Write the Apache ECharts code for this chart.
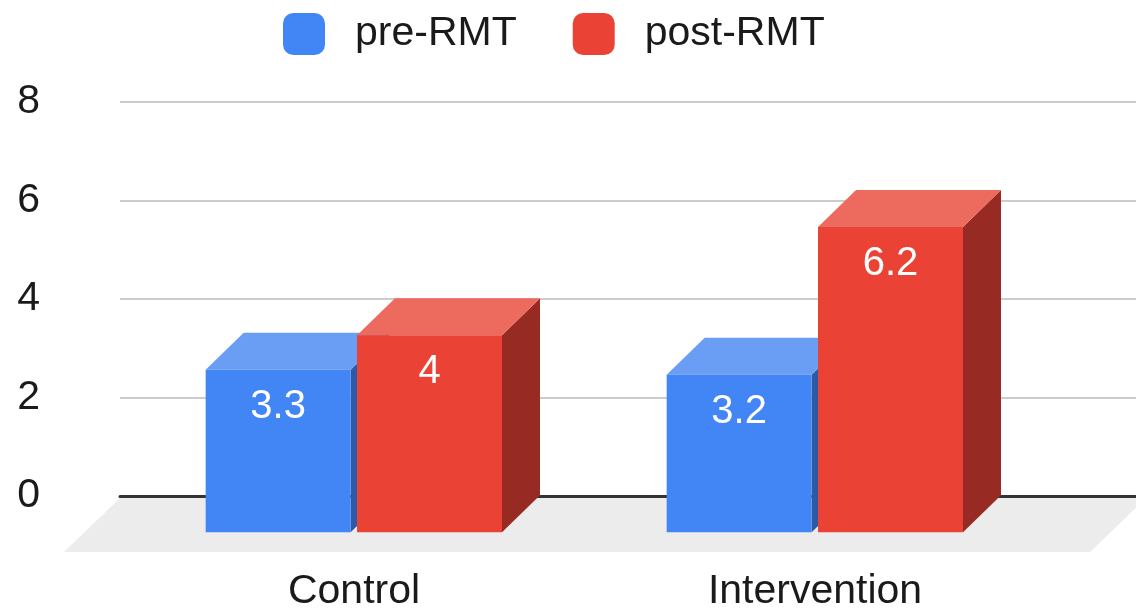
<!DOCTYPE html>
<html>
<head>
<meta charset="utf-8">
<script src="https://cdn.jsdelivr.net/npm/echarts@6/dist/echarts.min.js"></script>
<style>
html,body{margin:0;padding:0;background:#fff;}
#chart{width:1136px;height:609px;}
</style>
</head>
<body>
<div id="chart"></div>
<script>
const categories = ['Control', 'Intervention'];
const preRMT = [3.3, 3.2];
const postRMT = [4, 6.2];
const seriesNames = ['pre-RMT', 'post-RMT'];
const yMin = 0, yMax = 8, yInterval = 2;

const FONT = '"Liberation Sans", Arial, sans-serif';
const TEXT = '#1a1a1a';
const DX = 38, DY = 37;

const palettes = {
  'pre-RMT': { front: '#4285f4', top: '#6a9ef5', side: '#2c5aa6' },
  'post-RMT': { front: '#ea4335', top: '#ed6a5e', side: '#972a23' }
};

function makeBarRender(name, offset) {
  const pal = palettes[name];
  return function (params, api) {
    const cat = api.value(0), v = api.value(1);
    const band = api.size([1, 0])[0];
    const topPt = api.coord([cat, v]);
    const basePt = api.coord([cat, 0]);
    const w = band * 0.3145;
    const cx = topPt[0] + offset * band;
    const x0 = cx - w / 2, x1 = cx + w / 2;
    const yt = topPt[1], yb = basePt[1];
    return {
      type: 'group',
      children: [
        { type: 'polygon', shape: { points: [[x1, yt], [x1 + DX, yt - DY], [x1 + DX, yb - DY], [x1, yb]] }, style: { fill: pal.side } },
        { type: 'polygon', shape: { points: [[x0, yt], [x1, yt], [x1 + DX, yt - DY], [x0 + DX, yt - DY]] }, style: { fill: pal.top } },
        { type: 'rect', shape: { x: x0, y: yt, width: w, height: yb - yt }, style: { fill: pal.front } },
        { type: 'text', style: { text: String(v), x: cx, y: yt + 37, align: 'center', verticalAlign: 'middle', fill: '#ffffff', fontSize: 40, fontFamily: FONT } }
      ]
    };
  };
}

const chart = echarts.init(document.getElementById('chart'), null, { renderer: 'canvas' });
chart.setOption({
  animation: false,
  backgroundColor: '#ffffff',
  legend: {
    data: seriesNames,
    left: 283, top: 13, padding: 0,
    icon: 'roundRect', itemWidth: 42, itemHeight: 42, itemGap: 56,
    textStyle: { fontSize: 41, color: TEXT, fontFamily: FONT, padding: [4, 0, 0, 25] }
  },
  grid: [
    { left: 120, right: 0, top: 102, bottom: 113, outerBoundsMode: 'none', containLabel: false },
    { left: 123.5, right: 90.5, top: 138.3, bottom: 76.7, outerBoundsMode: 'none', containLabel: false }
  ],
  xAxis: [
    { gridIndex: 0, type: 'value', min: 0, max: 1, axisLabel: { show: false }, axisTick: { show: false }, splitLine: { show: false },
      axisLine: { show: true, lineStyle: { color: '#333', width: 3 } } },
    { gridIndex: 1, type: 'category', data: categories, axisLine: { show: false }, axisTick: { show: false },
      axisLabel: { fontSize: 41, color: TEXT, fontFamily: FONT, margin: 39 } }
  ],
  yAxis: [
    { gridIndex: 0, type: 'value', min: yMin, max: yMax, interval: yInterval,
      axisLine: { show: false }, axisTick: { show: false },
      axisLabel: { fontSize: 41, color: TEXT, fontFamily: FONT, margin: 80, padding: [4, 0, 0, 0] },
      splitLine: { lineStyle: { color: '#cccccc', width: 2 } } },
    { gridIndex: 1, type: 'value', min: yMin, max: yMax, show: false, splitLine: { show: false } }
  ],
  series: [
    {
      type: 'custom', name: 'floor', xAxisIndex: 0, yAxisIndex: 0, z: 1, silent: true,
      data: [[0, 0]],
      renderItem: function (params, api) {
        const cs = params.coordSys;
        const y0 = api.coord([0, 0])[1] + 2;
        const xl = cs.x, xr = cs.x + cs.width + 10;
        return { type: 'polygon', shape: { points: [[xl, y0], [xr, y0], [xr - 56, y0 + 54], [xl - 56, y0 + 54]] }, style: { fill: '#ececec' } };
      }
    },
    {
      type: 'custom', name: seriesNames[0], xAxisIndex: 1, yAxisIndex: 1, z: 3,
      itemStyle: { color: palettes['pre-RMT'].front },
      encode: { x: 0, y: 1 },
      data: preRMT.map((v, i) => [i, v]),
      renderItem: makeBarRender('pre-RMT', -0.1645)
    },
    {
      type: 'custom', name: seriesNames[1], xAxisIndex: 1, yAxisIndex: 1, z: 4,
      itemStyle: { color: palettes['post-RMT'].front },
      encode: { x: 0, y: 1 },
      data: postRMT.map((v, i) => [i, v]),
      renderItem: makeBarRender('post-RMT', 0.1638)
    }
  ]
});
</script>
</body>
</html>
